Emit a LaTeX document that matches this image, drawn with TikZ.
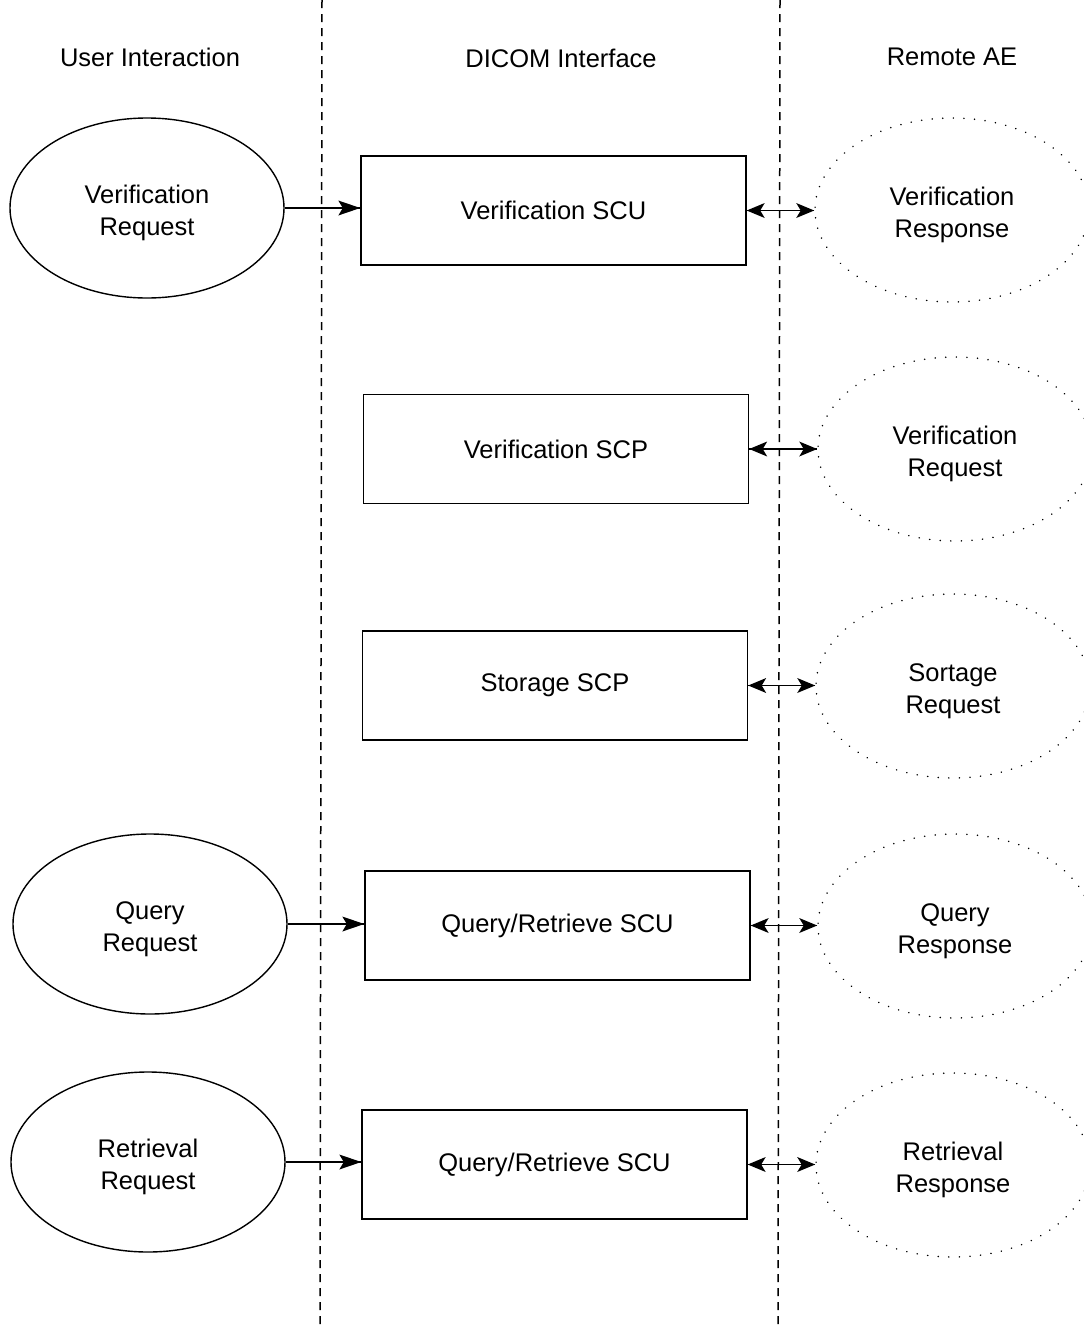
\documentclass[tikz,border=0pt]{standalone}
\usepackage{fontspec}
\setmainfont{Liberation Sans}
\usetikzlibrary{shapes.geometric}
\newcommand{\lowerstrut}{\rule{0pt}{29pt}}
\newcommand{\tipright}[2]{\fill (#1) -- ++(-#2,-7.5) -- ++(4.5,7.5) -- ++(-4.5,7.5) -- cycle;}
\newcommand{\tipleft}[2]{\fill (#1) -- ++(#2,-7.5) -- ++(-4.5,7.5) -- ++(4.5,7.5) -- cycle;}
\begin{document}
\begin{tikzpicture}[x=1pt,y=-1pt,
  every node/.style={font=\fontsize{25.5}{32}\selectfont, text=black, align=center},
  useroval/.style={ellipse, draw, line width=1.4pt, minimum width=274pt, minimum height=180pt, inner sep=0pt},
  remoteoval/.style={ellipse, draw, line width=1.6pt, dash pattern=on 0.1pt off 10.5pt, line cap=round, minimum width=274pt, minimum height=184pt, inner sep=0pt},
  svcbox/.style={rectangle, draw, line width=1.4pt, minimum width=385pt, minimum height=109pt, inner sep=0pt},
  lane/.style={line width=1.5pt, dash pattern=on 8pt off 6pt},
  conn/.style={line width=1.4pt}
]
\clip (0,0) rectangle (1084,1326);
\fill[white] (0,0) rectangle (1084,1326);

% lanes
\coordinate (l1t) at (322,0);
\coordinate (l1b) at (320,1326);
\coordinate (l2t) at (780,0);
\coordinate (l2b) at (778,1326);
\draw[lane] (l1t) -- (l1b);
\draw[lane] (l2t) -- (l2b);

% headers
\node (h1) at (150,57) {User Interaction};
\node (h2) at (561,58) {DICOM Interface};
\node (h3) at (952,57) {Remote AE};

% user interaction
\node[useroval] (u1) at (147,208) {\lowerstrut Verification\\Request};
\node[useroval] (u2) at (150,924) {\lowerstrut Query\\Request};
\node[useroval] (u3) at (148,1162) {\lowerstrut Retrieval\\Request};

% DICOM interface
\node[svcbox] (b1) at (553.5,210.5) {Verification SCU};
\node[svcbox] (b2) at (556,449) {Verification SCP};
\node[svcbox] (b3) at (555,685.5) {Storage SCP};
\node[svcbox] (b4) at (557.5,925.5) {Query/Retrieve SCU};
\node[svcbox] (b5) at (554.5,1164.5) {Query/Retrieve SCU};

% remote AE
\node[remoteoval] (r1) at (952,210) {\lowerstrut Verification\\Response};
\node[remoteoval] (r2) at (955,449) {\lowerstrut Verification\\Request};
\node[remoteoval] (r3) at (953,686) {\lowerstrut Sortage\\Request};
\node[remoteoval] (r4) at (955,926) {\lowerstrut Query\\Response};
\node[remoteoval] (r5) at (953,1165) {\lowerstrut Retrieval\\Response};

% request connectors
\coordinate (t1) at (u1.east -| b1.west);
\coordinate (t2) at (u2.east -| b4.west);
\coordinate (t3) at (u3.east -| b5.west);
\draw[conn] (u1.east) -- (t1);
\draw[conn] (u2.east) -- (t2);
\draw[conn] (u3.east) -- (t3);
\tipright{t1}{22}
\tipright{t2}{22}
\tipright{t3}{22}

% bidirectional connectors
\coordinate (s1) at (b1.east -| r1.west);
\coordinate (s2) at (b2.east -| r2.west);
\coordinate (s3) at (b3.east -| r3.west);
\coordinate (s4) at (b4.east -| r4.west);
\coordinate (s5) at (b5.east -| r5.west);
\draw[conn] (b1.east) -- (s1);
\draw[conn] (b2.east) -- (s2);
\draw[conn] (b3.east) -- (s3);
\draw[conn] (b4.east) -- (s4);
\draw[conn] (b5.east) -- (s5);
\tipleft{b1.east}{18}\tipright{s1}{18}
\tipleft{b2.east}{18}\tipright{s2}{18}
\tipleft{b3.east}{18}\tipright{s3}{18}
\tipleft{b4.east}{18}\tipright{s4}{18}
\tipleft{b5.east}{18}\tipright{s5}{18}
\end{tikzpicture}
\end{document}
